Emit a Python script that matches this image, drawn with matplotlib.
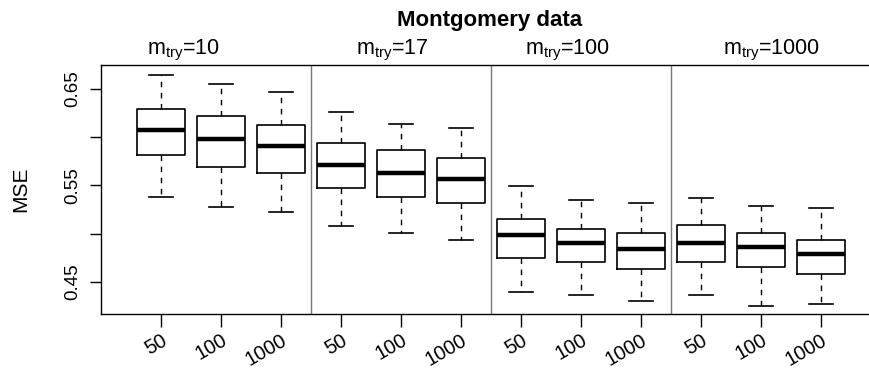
import numpy as np
import matplotlib.pyplot as plt

plt.rcParams['font.family'] = ['Liberation Sans', 'DejaVu Sans']
plt.rcParams['mathtext.fontset'] = 'custom'
plt.rcParams['mathtext.rm'] = 'Liberation Sans'

# groups (mtry) and ntree settings
mtry = ["10", "17", "100", "1000"]
ntree = ["50", "100", "1000"]

# five-number summaries, one entry per box (mtry x ntree)
whislo = [0.5376, 0.5278, 0.5227, 0.5081, 0.5005, 0.4933,
          0.4396, 0.4362, 0.4307, 0.4365, 0.4255, 0.4268]
q1 = [0.5818, 0.5690, 0.5631, 0.5472, 0.5376, 0.5319,
      0.4746, 0.4708, 0.4631, 0.4708, 0.4660, 0.4583]
med = [0.6071, 0.5978, 0.5905, 0.5708, 0.5625, 0.5569,
       0.4985, 0.4902, 0.4844, 0.4909, 0.4867, 0.4795]
q3 = [0.6290, 0.6217, 0.6130, 0.5940, 0.5870, 0.5787,
      0.5154, 0.5047, 0.5006, 0.5089, 0.5009, 0.4940]
whishi = [0.6648, 0.6555, 0.6469, 0.6261, 0.6140, 0.6098,
          0.5490, 0.5345, 0.5314, 0.5372, 0.5286, 0.5262]

stats = []
for i in range(len(med)):
    stats.append(dict(whislo=whislo[i], q1=q1[i], med=med[i], q3=q3[i],
                      whishi=whishi[i], fliers=[]))

fig = plt.figure(figsize=(8.7, 3.71), dpi=100)
ax = fig.add_axes([101/870, 1-314/371, 1-101/870, (314-65)/371])

pos = np.arange(1, len(med)+1)
ax.bxp(stats, positions=pos, widths=0.8, showfliers=False,
       boxprops=dict(color='black', linewidth=1.2),
       medianprops=dict(color='black', linewidth=3.2, solid_capstyle='butt'),
       whiskerprops=dict(color='black', linewidth=1.0, linestyle=(0, (4, 4))),
       capprops=dict(color='black', linewidth=1.2), capwidths=0.4)

# group separators
for k in range(1, len(mtry)):
    ax.axvline(k*len(ntree)+0.5, color='#777777', linewidth=1.0)

ax.set_xlim(0, (870-101)/60)
ax.set_ylim(0.4169, 0.6748)

ax.spines['right'].set_visible(False)
for s in ['left', 'bottom', 'top']:
    ax.spines[s].set_linewidth(1.0)

ax.set_yticks([0.45, 0.50, 0.55, 0.60, 0.65])
ax.set_yticklabels(["0.45", "", "0.55", "", "0.65"], rotation=90, va='center')
ax.tick_params(axis='y', length=8, width=1.0, labelsize=13.5, pad=6)

ax.set_xticks(pos)
ax.set_xticklabels(ntree*len(mtry), rotation=30, ha='right',
                   rotation_mode='anchor')
ax.tick_params(axis='x', length=9, width=1.0, labelsize=14.5, pad=3)

ax.set_ylabel("MSE", fontsize=15, labelpad=25)

fig.text(0.563, 0.946, "Montgomery data", fontsize=16, fontweight='bold',
         ha='center', va='center')
sub_x = [1.37, 4.85, 7.77, 11.17]
for x, m in zip(sub_x, mtry):
    ax.text(x, 1.01, r"$\mathrm{m}_{\mathrm{try}}$=" + m, transform=ax.get_xaxis_transform(),
            ha='center', va='bottom', fontsize=15.5)

fig.savefig("out.png", dpi=100)
